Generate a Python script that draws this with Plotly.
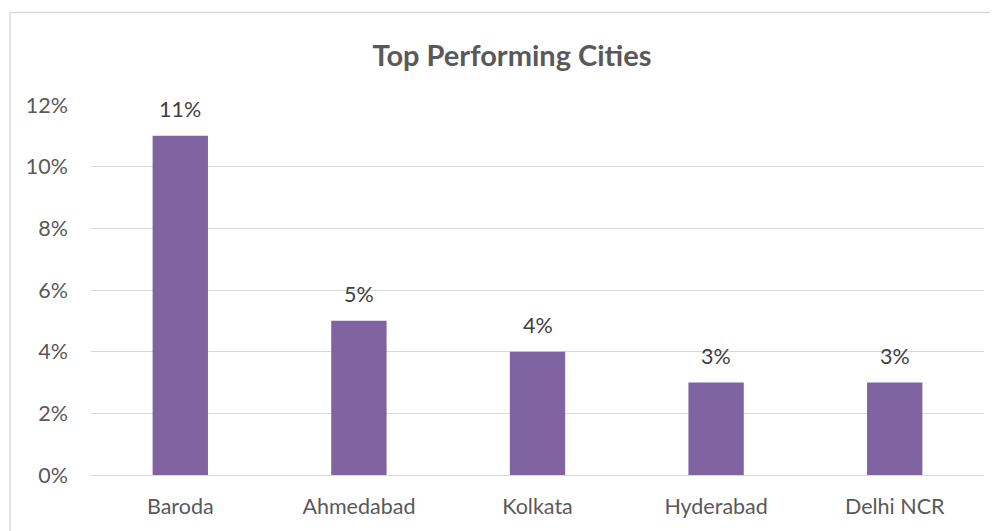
import plotly.graph_objects as go

cities = ["Baroda", "Ahmedabad", "Kolkata", "Hyderabad", "Delhi NCR"]
shares = [0.11, 0.05, 0.04, 0.03, 0.03]
label_texts = ["11%", "5%", "4%", "3%", "3%"]
tick_vals = [0, 0.02, 0.04, 0.06, 0.08, 0.10, 0.12]
tick_text = ["0%", "2%", "4%", "6%", "8%", "10%", "12%"]

# page has an 8px body margin, so the figure is sized to fit the window
W, H = 990, 523
L, R, T, B = 83, 14, 97, 54
pw, ph = W - L - R, H - T - B
FONT = "Lato, Open Sans, sans-serif"

fig = go.Figure()
fig.add_trace(go.Bar(
    x=cities, y=shares,
    marker=dict(color="#8064A2", line=dict(width=0)),
    hoverinfo="skip",
))

for c, v, t in zip(cities, shares, label_texts):
    fig.add_annotation(x=c, y=v, text=t, showarrow=False, yanchor="bottom",
                       yshift=12, font=dict(size=21.5, color="#404040", family=FONT))

# chart border (top and left visible)
fig.add_shape(type="rect", xref="paper", yref="paper",
              x0=(2 - L) / pw, x1=(W + 20 - L) / pw,
              y0=(H - (H + 20) - B) / ph, y1=(H - 4 - B) / ph,
              line=dict(color="#D9D9D9", width=1.5), fillcolor="rgba(0,0,0,0)", layer="below")

fig.update_layout(
    width=W, height=H,
    margin=dict(l=L, r=R, t=T, b=B),
    paper_bgcolor="white", plot_bgcolor="white",
    bargap=0.69,
    showlegend=False,
    title=dict(text="<b>Top Performing Cities</b>", x=504 / W, xanchor="center",
               y=1 - 48 / H, yanchor="middle",
               font=dict(size=29, color="#595959", family=FONT)),
    font=dict(family=FONT, color="#595959"),
    xaxis=dict(showgrid=False, showline=False, ticks="", tickfont=dict(size=21.5, color="#595959"),
               ticklabelstandoff=16),
    yaxis=dict(range=[0, 0.12], tickvals=tick_vals, ticktext=tick_text,
               showgrid=True, gridcolor="#D9D9D9", gridwidth=1.3,
               zeroline=True, zerolinecolor="#D9D9D9", zerolinewidth=1.3,
               showline=False, ticks="", tickfont=dict(size=21.5, color="#595959"),
               ticklabelstandoff=22),
)

fig.write_html("out.html")
